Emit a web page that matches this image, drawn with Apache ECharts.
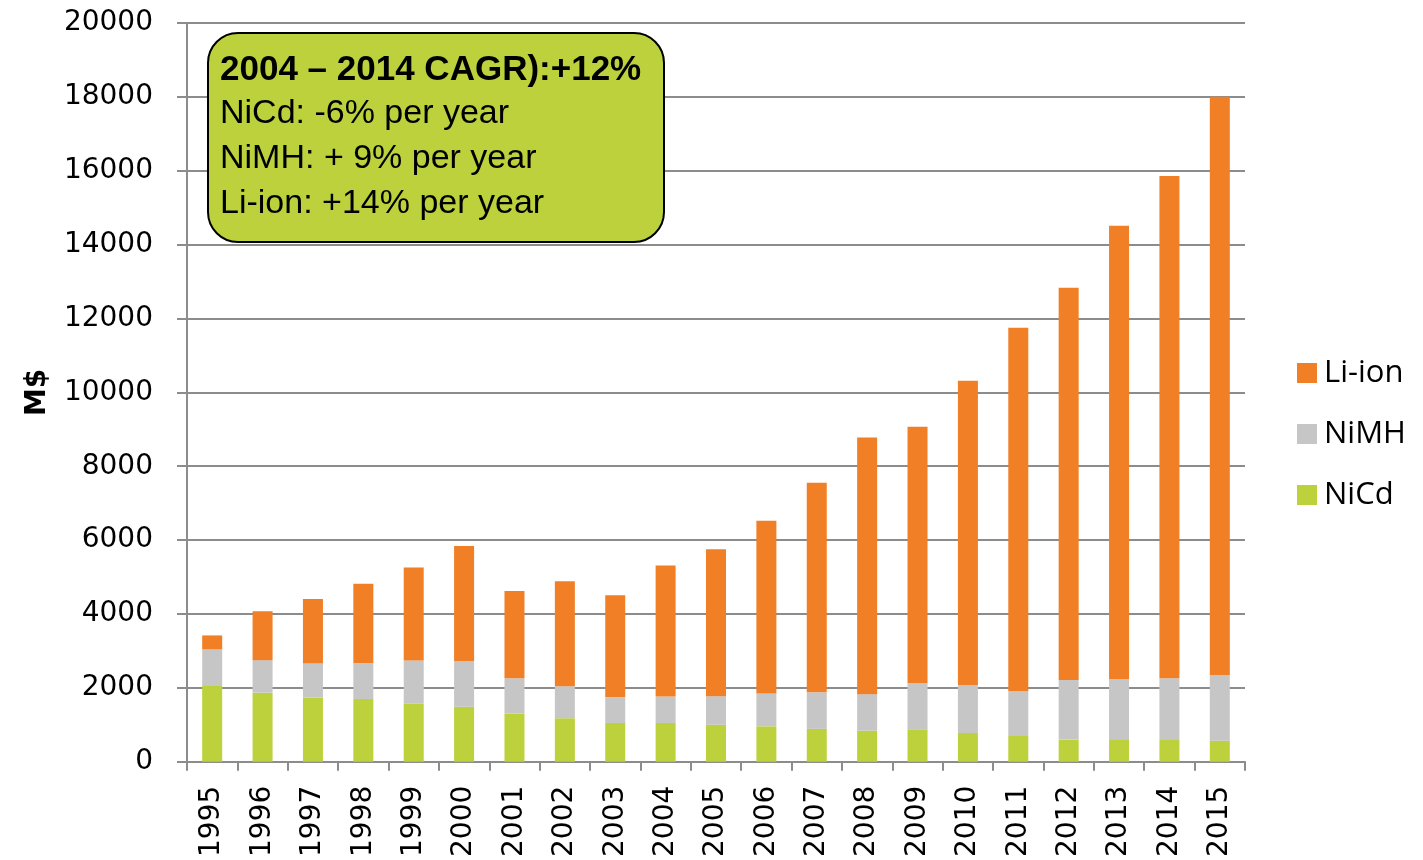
<!DOCTYPE html>
<html>
<head>
<meta charset="utf-8">
<script src="https://cdn.jsdelivr.net/npm/echarts@6/dist/echarts.min.js"></script>
<style>
  html, body { margin: 0; padding: 0; background: #fff; }
  #chart { width: 1423px; height: 860px; }
</style>
</head>
<body>
<div id="chart"></div>
<script>
// years on the category axis
var years = ['1995', '1996', '1997', '1998', '1999', '2000', '2001', '2002', '2003', '2004', '2005',
  '2006', '2007', '2008', '2009', '2010', '2011', '2012', '2013', '2014', '2015']
// market per chemistry, M$ (stacked segments)
var nicd = [2050, 1870, 1740, 1700, 1570, 1490, 1300, 1180, 1050, 1050, 1000,
  960, 890, 840, 880, 780, 700, 600, 590, 590, 570]
var nimh = [990, 880, 920, 965, 1170, 1240, 960, 865, 700, 715, 775,
  890, 990, 990, 1245, 1300, 1210, 1610, 1650, 1670, 1775]
var liion = [380, 1325, 1745, 2155, 2520, 3110, 2360, 2840, 2755, 3550, 3975,
  4675, 5675, 6945, 6945, 8235, 9840, 10620, 12270, 13600, 15655]
// annotation box text
var noteTitle = '2004 – 2014 CAGR):+12%'
var noteLines = ['NiCd: -6% per year', 'NiMH: + 9% per year', 'Li-ion: +14% per year']

var chart = echarts.init(document.getElementById('chart'))
var axisFont = 'DejaVu Sans'

// box children: one rect + one text per line (centres 45px apart)
var noteChildren = [
  {
    type: 'rect',
    z: 100,
    shape: { x: 0, y: 0, width: 456, height: 209, r: 30 },
    style: { fill: '#bcd13c', stroke: '#000', lineWidth: 2 }
  },
  {
    type: 'text',
    z: 101,
    x: 12,
    y: 37,
    style: {
      text: noteTitle,
      fontFamily: 'Liberation Sans',
      fontSize: 35,
      fontWeight: 'bold',
      verticalAlign: 'middle',
      fill: '#000'
    }
  }
]
noteLines.forEach(function(line, i) {
  noteChildren.push({
    type: 'text',
    z: 101,
    x: 12,
    y: 81 + i * 45,
    style: {
      text: line,
      fontFamily: 'Liberation Sans',
      fontSize: 34,
      verticalAlign: 'middle',
      fill: '#000'
    }
  })
})

var option = {
  animation: false,
  grid: { left: 187, right: 178, top: 23, bottom: 98 },
  legend: {
    orient: 'vertical',
    left: 1292,
    top: 352,
    itemWidth: 20,
    itemHeight: 20,
    itemGap: 29,
    icon: 'rect',
    data: ['Li-ion', 'NiMH', 'NiCd'],
    textStyle: { fontFamily: 'Open Sans', fontSize: 31, lineHeight: 32, color: '#000', padding: [0, 0, 0, 2] }
  },
  xAxis: {
    type: 'category',
    data: years,
    boundaryGap: true,
    axisLine: { lineStyle: { color: '#8c8c8c', width: 2 } },
    axisTick: { show: true, length: 9, lineStyle: { color: '#8c8c8c', width: 2 } },
    axisLabel: {
      rotate: 90,
      margin: 24,
      interval: 0,
      fontFamily: axisFont,
      fontSize: 28,
      color: '#000'
    }
  },
  yAxis: {
    type: 'value',
    min: 0,
    max: 20000,
    interval: 2000,
    name: 'M$',
    nameLocation: 'middle',
    nameGap: 135,
    nameTextStyle: { fontFamily: 'DejaVu Sans', fontWeight: 'bold', fontSize: 28, color: '#000' },
    axisLine: { show: true, lineStyle: { color: '#8c8c8c', width: 2 } },
    axisTick: { show: true, length: 10, lineStyle: { color: '#8c8c8c', width: 2 } },
    axisLabel: {
      margin: 34,
      fontFamily: axisFont,
      fontSize: 28,
      color: '#000',
      formatter: function(v) { return String(v) }
    },
    splitLine: { show: true, lineStyle: { color: '#8c8c8c', width: 2 } }
  },
  series: [
    {
      name: 'NiCd',
      type: 'bar',
      stack: 'total',
      barWidth: 20,
      itemStyle: { color: '#bcd13c' },
      data: nicd
    },
    {
      name: 'NiMH',
      type: 'bar',
      stack: 'total',
      barWidth: 20,
      itemStyle: { color: '#c6c6c6' },
      data: nimh
    },
    {
      name: 'Li-ion',
      type: 'bar',
      stack: 'total',
      barWidth: 20,
      itemStyle: { color: '#f07f26' },
      data: liion
    }
  ],
  graphic: [
    {
      type: 'group',
      left: 207,
      top: 32,
      z: 100,
      children: noteChildren
    }
  ]
}
chart.setOption(option)
</script>
</body>
</html>
